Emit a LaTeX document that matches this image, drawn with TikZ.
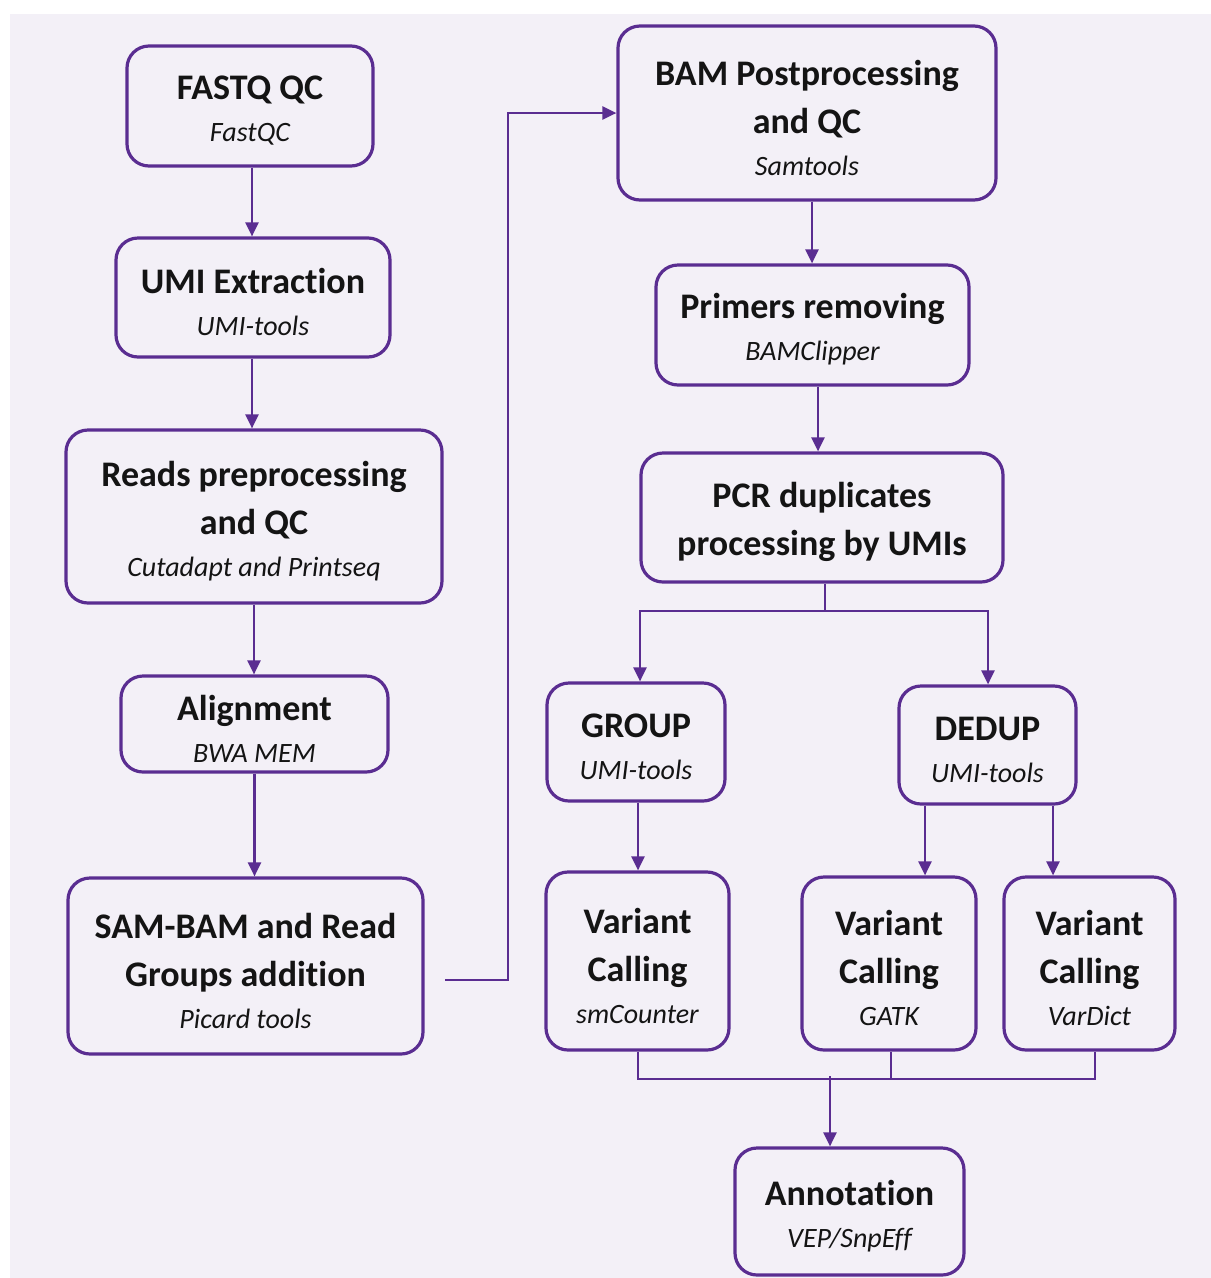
\documentclass[tikz,border=0pt]{standalone}
\usepackage{fontspec}
\setmainfont{Carlito}[Ligatures=NoCommon]
\usetikzlibrary{arrows.meta,calc}
\definecolor{bgcol}{HTML}{F3F0F7}
\definecolor{pur}{HTML}{5A2D91}
\tikzset{
  box/.style={draw=pur, line width=3.2pt, rounded corners=22pt, inner sep=0pt},
  txt/.style={align=center, inner sep=0pt, text=black!92,
    font=\fontsize{36}{48}\selectfont},
  con/.style={draw=pur, line width=2.4pt},
  arr/.style={con, -{Triangle[length=14pt,width=13pt]}},
  thin/.style={draw=pur, line width=1.8pt}
}
\newcommand{\ttl}[1]{\textbf{#1}}
\newcommand{\sbt}[1]{{\fontsize{28}{28}\selectfont\itshape #1}}
% \bx{name}{x,y}{width}{height}{text}
\newcommand{\bx}[5]{%
  \node[box, minimum width=#3pt, minimum height=#4pt] (#1) at (#2) {};
  \node[txt] (#1-t) at ([yshift=-4.5pt]#1.center) {#5};
}
\begin{document}
\begin{tikzpicture}[x=1pt,y=-1pt]
\useasboundingbox (0,0) rectangle (1211,1278);
\fill[white] (0,0) rectangle (1211,1278);
\fill[bgcol] (10,14) rectangle (1211,1278);

\bx{fastq}{250,106}{246}{120}{\ttl{FASTQ QC}\\[-6pt]\sbt{FastQC}}
\bx{umi}{253,297.5}{274}{119}{\ttl{UMI Extraction}\\[-6pt]\sbt{UMI-tools}}
\bx{reads}{254,516.5}{376}{173}{\ttl{Reads preprocessing}\\\ttl{and QC}\\[-6pt]\sbt{Cutadapt and Printseq}}
\bx{align}{254.5,724}{267}{96}{\ttl{Alignment}\\[-6pt]\sbt{BWA MEM}}
\bx{sam}{245.5,966}{355}{176}{\ttl{SAM-BAM and Read}\\\ttl{Groups addition}\\[-6pt]\sbt{Picard tools}}

\bx{bam}{807,113}{378}{174}{\ttl{BAM Postprocessing}\\\ttl{and QC}\\[-6pt]\sbt{Samtools}}
\bx{primers}{812.5,325}{313}{120}{\ttl{Primers removing}\\[-6pt]\sbt{BAMClipper}}
\bx{pcr}{822,517.5}{362}{129}{\ttl{PCR duplicates}\\\ttl{processing by UMIs}}
\bx{group}{636,742}{178}{118}{\ttl{GROUP}\\[-6pt]\sbt{UMI-tools}}
\bx{dedup}{987.5,745}{177}{118}{\ttl{DEDUP}\\[-6pt]\sbt{UMI-tools}}
\bx{vca}{637.5,961}{183}{178}{\ttl{Variant}\\\ttl{Calling}\\[-6pt]\sbt{smCounter}}
\bx{vcb}{889,963.5}{174}{173}{\ttl{Variant}\\\ttl{Calling}\\[-6pt]\sbt{GATK}}
\bx{vcc}{1089.5,963.5}{171}{173}{\ttl{Variant}\\\ttl{Calling}\\[-6pt]\sbt{VarDict}}
\bx{annot}{849.5,1211.5}{229}{127}{\ttl{Annotation}\\[-6pt]\sbt{VEP/SnpEff}}

% left column
\draw[arr] ([xshift=2pt]fastq.south) -- ([xshift=2pt]fastq.south |- umi.north);
\draw[arr] ([xshift=-1pt]umi.south) -- ([xshift=-1pt]umi.south |- reads.north);
\draw[arr] (reads.south) -- (reads.south |- align.north);
\draw[arr] (align.south) -- (align.south |- sam.north);

% SAM -> BAM
\coordinate (samout) at (445,980);
\draw[arr] (samout) -- (508,980) |- (bam.west);

% right column
\draw[arr] ([xshift=5pt]bam.south) -- ([xshift=5pt]bam.south |- primers.north);
\draw[arr] ([xshift=5.5pt]primers.south) -- ([xshift=5.5pt]primers.south |- pcr.north);

\coordinate (split) at (825,611);
\draw[con] ([xshift=3pt]pcr.south) -- (split);
\draw[arr] (split) -| ([xshift=4pt]group.north);
\draw[arr] (split) -| ([xshift=0.5pt]dedup.north);

\draw[arr] ([xshift=2pt]group.south) -- ([xshift=2pt]group.south |- vca.north);
\draw[arr] ([xshift=-62.5pt]dedup.south) -- ([xshift=-62.5pt]dedup.south |- vcb.north);
\draw[arr] ([xshift=65.5pt]dedup.south) -- ([xshift=65.5pt]dedup.south |- vcc.north);

% merge
\coordinate (merge) at (830,1079);
\coordinate (mergetop) at (830,1076);
\draw[thin] ([xshift=0.5pt]vca.south) |- (merge);
\draw[thin] ([xshift=5.5pt]vcc.south) |- (merge);
\draw[thin] ([xshift=2pt]vcb.south) -- ([xshift=2pt]vcb.south |- merge);
\draw[arr] (mergetop) -- (mergetop |- annot.north);
\end{tikzpicture}
\end{document}
